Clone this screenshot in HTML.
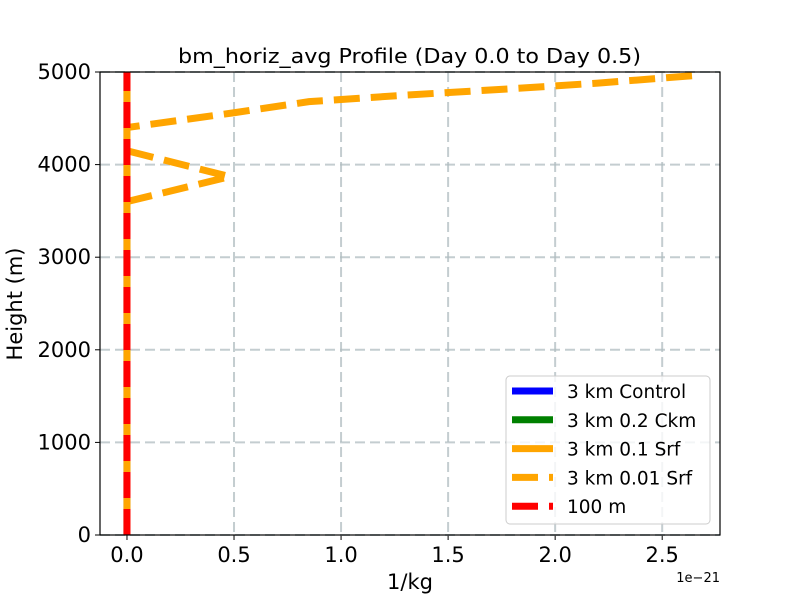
<!DOCTYPE html>
<html><head><meta charset="utf-8"><style>body{margin:0;background:#fff}svg{font-family:"DejaVu Sans","Liberation Sans",sans-serif}</style></head>
<body>
<svg id="chart" width="800" height="600" xmlns="http://www.w3.org/2000/svg"></svg>
<script>
const xTicks=[0,0.5,1.0,1.5,2.0,2.5];
const xTickLabels=["0.0","0.5","1.0","1.5","2.0","2.5"];
const yTicks=[0,1000,2000,3000,4000,5000];
const yTickLabels=["0","1000","2000","3000","4000","5000"];
const heights=[0,3600,3870,4150,4400,4560,4680,4750,4820,4880,4960];
const srf001=[0,0,0.48,0,0,0.5,0.85,1.3,1.8,2.2,2.64];
const zeroHeights=[0,5000];
const zeroVals=[0,0];
const series=[
 {name:"3 km Control",color:"#0000ff",dash:null,h:zeroHeights,v:zeroVals},
 {name:"3 km 0.2 Ckm",color:"#008000",dash:null,h:zeroHeights,v:zeroVals},
 {name:"3 km 0.1 Srf",color:"#ffa500",dash:null,h:zeroHeights,v:zeroVals},
 {name:"3 km 0.01 Srf",color:"#ffa500",dash:"26,11",h:heights,v:srf001},
 {name:"100 m",color:"#ff0000",dash:"26,11",h:zeroHeights,v:zeroVals}
];
const L=100,R=720,T=72,B=535,xmin=-0.126,xmax=2.77,ymin=0,ymax=5000;
const X=v=>L+(v-xmin)/(xmax-xmin)*(R-L);
const Y=v=>B-(v-ymin)/(ymax-ymin)*(B-T);
const svg=document.getElementById('chart');const NS="http://www.w3.org/2000/svg";
function mk(t,a,p){const e=document.createElementNS(NS,t);for(const k in a)e.setAttribute(k,a[k]);(p||svg).appendChild(e);return e;}
function txt(s,a,name){const e=mk('text',a);e.textContent=s;return e;}
xTicks.forEach((t,i)=>{const g=mk('line',{x1:X(t),x2:X(t),y1:T,y2:B,stroke:'#b0bcc0','stroke-opacity':0.75,'stroke-width':2,'stroke-dasharray':'10,5'});

const tk=mk('line',{x1:X(t),x2:X(t),y1:B,y2:B+5,stroke:'#000','stroke-width':1});

txt(xTickLabels[i],{x:X(t),y:B+27,'font-size':21,'text-anchor':'middle'},'x-tick-label');});
yTicks.forEach((t,i)=>{const g=mk('line',{x1:L,x2:R,y1:Y(t),y2:Y(t),stroke:'#b0bcc0','stroke-opacity':0.75,'stroke-width':2,'stroke-dasharray':'10,5'});

const tk=mk('line',{x1:L-5,x2:L,y1:Y(t),y2:Y(t),stroke:'#000','stroke-width':1});

txt(yTickLabels[i],{x:L-9,y:Y(t)+7,'font-size':21,'text-anchor':'end'},'y-tick-label');});
series.forEach(s=>{const pts=s.v.map((v,i)=>X(v)+','+Y(s.h[i])).join(' ');
const a={points:pts,fill:'none',stroke:s.color,'stroke-width':7};if(s.dash)a['stroke-dasharray']=s.dash;
const p=mk('polyline',a);});
const fr=mk('rect',{x:L,y:T,width:R-L,height:B-T,fill:'none',stroke:'#000','stroke-width':1.2});

txt('bm_horiz_avg Profile (Day 0.0 to Day 0.5)',{x:178,y:63,'font-size':20,textLength:463,lengthAdjust:'spacingAndGlyphs'},'chart-title');
txt('1/kg',{x:410,y:589,'font-size':21,'text-anchor':'middle'},'x-axis-title');
txt('Height (m)',{x:0,y:0,'font-size':21,'text-anchor':'middle',transform:'translate(22,304) rotate(-90)'},'y-axis-title');
txt('1e\u221221',{x:720,y:582,'font-size':13,'text-anchor':'end'},'x-offset-label');
const lg=mk('g',{});
mk('rect',{x:506,y:376,width:204,height:148,rx:4,fill:'#fff','fill-opacity':0.8,stroke:'#ccc'},lg);
series.forEach((s,i)=>{const y=391+i*28.8;
const a={x1:512,x2:553,y1:y,y2:y,stroke:s.color,'stroke-width':7};if(s.dash)a['stroke-dasharray']='26,11';
const l=mk('line',a,lg);
const t=mk('text',{x:567,y:y+7,'font-size':18.5},lg);t.textContent=s.name;});
</script>
</body></html>
